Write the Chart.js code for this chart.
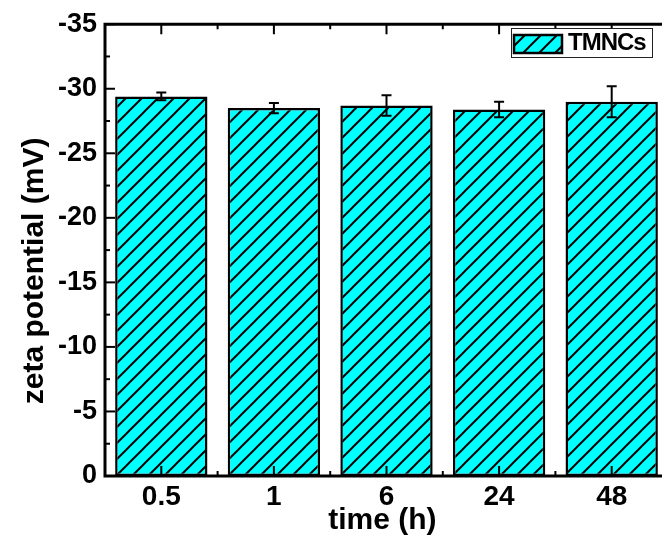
<!DOCTYPE html>
<html>
<head>
<meta charset="utf-8">
<script src="https://cdn.jsdelivr.net/npm/chart.js@4"></script>
<style>
  html, body { margin: 0; padding: 0; background: #fff; overflow: hidden; }
  #wrap { width: 672px; height: 541px; }
</style>
</head>
<body>
<div id="wrap"><canvas id="zetaChart" width="672" height="541"></canvas></div>
<script>
const categories = ['0.5', '1', '6', '24', '48'];
const zetaMeans = [-29.4, -28.5, -28.7, -28.4, -29.0];
const zetaErrors = [0.3, 0.4, 0.8, 0.6, 1.2];
const seriesName = 'TMNCs';

const FONT = '"Liberation Sans", Arial, sans-serif';

// cyan fill with "/" hatching
const makeHatch = () => {
    const s = 16;
    const c = document.createElement('canvas');
    c.width = s; c.height = s;
    const g = c.getContext('2d');
    g.fillStyle = '#00ffff';
    g.fillRect(0, 0, s, s);
    g.strokeStyle = '#000';
    g.lineWidth = 2;
    g.beginPath();
    g.moveTo(0, s); g.lineTo(s, 0);
    g.moveTo(-2, 2); g.lineTo(2, -2);
    g.moveTo(s - 2, s + 2); g.lineTo(s + 2, s - 2);
    g.stroke();
    return g.createPattern(c, 'repeat');
};

const ctx = document.getElementById('zetaChart').getContext('2d');
const hatch = makeHatch();

// frame, inward ticks, error bars and legend
const decorations = {
    id: 'decorations',
    afterDatasetsDraw(chart) {
        const { ctx, chartArea: a, scales: { x, y } } = chart;
        ctx.save();

        // error bars
        ctx.strokeStyle = '#000';
        ctx.lineWidth = 2;
        zetaMeans.forEach((m, i) => {
            const px = x.getPixelForValue(i);
            const top = y.getPixelForValue(m - zetaErrors[i]);
            const bot = y.getPixelForValue(m + zetaErrors[i]);
            ctx.beginPath();
            ctx.moveTo(px, top); ctx.lineTo(px, bot);
            ctx.moveTo(px - 5, top); ctx.lineTo(px + 5, top);
            ctx.moveTo(px - 5, bot); ctx.lineTo(px + 5, bot);
            ctx.stroke();
        });

        // y ticks (major every 5, minor every 2.5)
        for (let v = 0; v >= -35; v -= 2.5) {
            const py = y.getPixelForValue(v);
            const len = (v % 5 === 0) ? 10 : 5;
            ctx.beginPath();
            ctx.moveTo(a.left, py); ctx.lineTo(a.left + len, py);
            ctx.stroke();
        }
        // x ticks top and bottom
        const step = x.getPixelForValue(1) - x.getPixelForValue(0);
        for (let i = 0; i < categories.length; i++) {
            const px = x.getPixelForValue(i);
            const pb = px + step / 2;
            ctx.beginPath();
            ctx.moveTo(px, a.bottom); ctx.lineTo(px, a.bottom - 10);
            ctx.moveTo(px, a.top); ctx.lineTo(px, a.top + 10);
            ctx.moveTo(pb, a.bottom); ctx.lineTo(pb, a.bottom - 5);
            ctx.moveTo(pb, a.top); ctx.lineTo(pb, a.top + 5);
            ctx.stroke();
        }

        // frame
        ctx.lineWidth = 3;
        ctx.beginPath();
        ctx.moveTo(a.right, a.top);
        ctx.lineTo(a.left, a.top);
        ctx.lineTo(a.left, a.bottom);
        ctx.lineTo(a.right, a.bottom);
        ctx.stroke();

        // legend
        ctx.fillStyle = '#fff';
        ctx.fillRect(511, 28, 141, 29);
        ctx.lineWidth = 1;
        ctx.strokeStyle = '#222';
        ctx.strokeRect(511.5, 28.5, 141, 29);
        ctx.fillStyle = hatch;
        ctx.fillRect(514, 35, 48, 18);
        ctx.lineWidth = 2.5;
        ctx.strokeStyle = '#000';
        ctx.strokeRect(514, 35, 48, 18);
        ctx.fillStyle = '#000';
        ctx.font = 'bold 24px ' + FONT;
        ctx.letterSpacing = '-1px';
        ctx.textBaseline = 'middle';
        ctx.fillText(seriesName, 568, 43);

        ctx.restore();
    }
};

new Chart(ctx, {
    type: 'bar',
    data: {
        labels: categories,
        datasets: [{
            label: seriesName,
            data: zetaMeans,
            backgroundColor: hatch,
            borderColor: '#000',
            borderWidth: 2.5,
            borderSkipped: false,
            barPercentage: 0.82,
            categoryPercentage: 1
        }]
    },
    options: {
        responsive: false,
        animation: false,
        layout: { padding: { top: 20, right: 4, left: 0, bottom: 0 } },
        plugins: { legend: { display: false }, tooltip: { enabled: false } },
        scales: {
            x: {
                grid: { display: false, drawTicks: false },
                border: { display: false },
                ticks: { color: '#000', padding: 4, font: { family: FONT, size: 28, weight: 'bold' } },
                title: {
                    display: true, text: 'time (h) ', color: '#000',
                    padding: { top: 0, bottom: 2 },
                    font: { family: FONT, size: 30, weight: 'bold' }
                },
                afterFit: (s) => { s.height = 65; }
            },
            y: {
                min: -35, max: 0, reverse: true,
                grid: { display: false, drawTicks: false },
                border: { display: false },
                ticks: {
                    stepSize: 5, color: '#000', padding: 8,
                    font: { family: FONT, size: 27, weight: 'bold' },
                    callback: (v) => String(v)
                },
                title: {
                    display: true, text: 'zeta potential (mV)     ', color: '#000',
                    padding: { top: 17, bottom: 0 },
                    font: { family: FONT, size: 30, weight: 'bold' }
                },
                afterFit: (s) => { s.width = 105; }
            }
        }
    },
    plugins: [decorations]
});
</script>
</body>
</html>
